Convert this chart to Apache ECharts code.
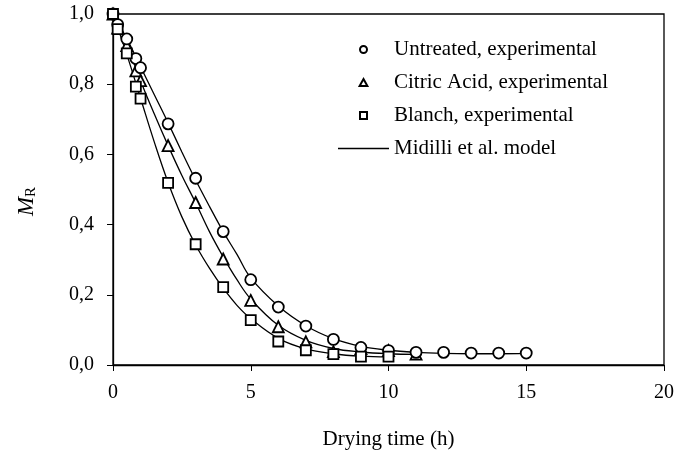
<!DOCTYPE html>
<html>
<head>
<meta charset="utf-8">
<script src="https://cdn.jsdelivr.net/npm/echarts@6/dist/echarts.min.js"></script>
<style>
  html, body { margin: 0; padding: 0; background: #fff; }
  #chart { width: 677px; height: 459px; }
</style>
</head>
<body>
<div id="chart"></div>
<script>
const timesUntreated = [0, 0.17, 0.5, 0.83, 1, 2, 3, 4, 5, 6, 7, 8, 9, 10, 11, 12, 13, 14, 15];
const untreated = [1.0, 0.97, 0.929, 0.873, 0.847, 0.687, 0.532, 0.38, 0.243, 0.165, 0.111, 0.073, 0.05, 0.041, 0.036, 0.036, 0.034, 0.034, 0.034];
const timesCitric = [0, 0.17, 0.5, 0.83, 1, 2, 3, 4, 5, 6, 7, 8, 9, 10, 11];
const citric = [1.0, 0.96, 0.91, 0.838, 0.81, 0.625, 0.463, 0.302, 0.184, 0.109, 0.066, 0.038, 0.047, 0.041, 0.031];
const timesBlanch = [0, 0.17, 0.5, 0.83, 1, 2, 3, 4, 5, 6, 7, 8, 9, 10];
const blanch = [1.0, 0.957, 0.888, 0.793, 0.759, 0.519, 0.344, 0.222, 0.128, 0.067, 0.042, 0.031, 0.024, 0.024];

// Midilli et al. model curves
const modelTimes = [0, 0.5, 1, 1.5, 2, 2.5, 3, 3.5, 4, 4.5, 5, 6, 7, 8, 9, 10, 11, 12, 13, 14, 15];
const modelUntreated = [1.0, 0.93, 0.85, 0.77, 0.69, 0.607, 0.527, 0.452, 0.38, 0.315, 0.248, 0.168, 0.112, 0.075, 0.053, 0.042, 0.036, 0.033, 0.032, 0.032, 0.033];
const modelCitric = [1.0, 0.915, 0.81, 0.715, 0.625, 0.54, 0.462, 0.38, 0.308, 0.243, 0.188, 0.113, 0.07, 0.047, 0.037, 0.032, 0.03];
const modelBlanch = [1.0, 0.885, 0.76, 0.635, 0.52, 0.422, 0.342, 0.276, 0.219, 0.17, 0.132, 0.076, 0.046, 0.032, 0.025, 0.023];

const xTicks = [0, 5, 10, 15, 20];

function pairs(xs, ys) {
  return ys.map((y, i) => [xs[i], y]);
}

const chart = echarts.init(document.getElementById("chart"));
const font = "Liberation Serif";

const markerStyle = {
  color: "#fff",
  borderColor: "#000",
  borderWidth: 1.8,
  opacity: 1,
};

const modelLine = (data) => ({
  name: "Midilli et al. model",
  type: "line",
  data: data,
  smooth: 0.4,
  symbol: "none",
  lineStyle: { color: "#000", width: 1.3 },
  itemStyle: { color: "#000" },
  z: 2,
  silent: true,
});

// legend icons, kept square inside the wide legend box
const triIcon = "path://M5,0L10,9L0,9Z";
const sqIcon = "path://M0,0H10V10H0Z";
const lineIcon = "path://M0,0H51V1.3H0Z";

let option = {
  animation: false,
  backgroundColor: "#fff",
  textStyle: { fontFamily: font },
  grid: {
    left: 113,
    right: 13,
    top: 14,
    bottom: 94,
    show: true,
    borderColor: "#000",
    borderWidth: 1.3,
  },
  legend: {
    orient: "vertical",
    left: 333,
    top: 34,
    itemWidth: 51,
    itemHeight: 7,
    itemGap: 12,
    symbolKeepAspect: true,
    textStyle: { fontFamily: font, fontSize: 21, color: "#000" },
    data: [
      { name: "Untreated, experimental", icon: "circle", itemStyle: { borderWidth: 2, opacity: 1 } },
      { name: "Citric Acid, experimental", icon: triIcon, itemStyle: { borderWidth: 2, opacity: 1 } },
      { name: "Blanch, experimental", icon: sqIcon, itemStyle: { borderWidth: 2, opacity: 1 } },
      { name: "Midilli et al. model", icon: lineIcon },
    ],
  },
  xAxis: {
    type: "value",
    min: 0,
    max: 20,
    interval: 5,
    name: "Drying time (h)",
    nameLocation: "middle",
    nameGap: 64,
    nameTextStyle: { fontFamily: font, fontSize: 21, color: "#000" },
    axisLine: { lineStyle: { color: "#000", width: 1.3 } },
    axisTick: { show: true, length: 6, lineStyle: { color: "#000" } },
    axisLabel: {
      margin: 18,
      fontFamily: font,
      fontSize: 20,
      color: "#000",
      customValues: xTicks,
    },
    splitLine: { show: false },
  },
  yAxis: {
    type: "value",
    min: 0,
    max: 1,
    interval: 0.2,
    name: "{i|M}{s|R}",
    nameLocation: "middle",
    nameGap: 74,
    nameTextStyle: {
      padding: [0, 24, 0, 0],
      rich: {
        i: { fontFamily: font, fontSize: 23, fontStyle: "italic", color: "#000" },
        s: { fontFamily: font, fontSize: 15, color: "#000", padding: [9, 0, 0, 0] },
      },
    },
    axisLine: { show: true, lineStyle: { color: "#000", width: 1.3 } },
    axisTick: { show: true, length: 6, lineStyle: { color: "#000" } },
    axisLabel: {
      margin: 19,
      fontFamily: font,
      fontSize: 20,
      color: "#000",
      formatter: (v) => v.toFixed(1).replace(".", ","),
    },
    splitLine: { show: false },
  },
  series: [
    modelLine(pairs(modelTimes, modelUntreated)),
    modelLine(pairs(modelTimes, modelCitric)),
    modelLine(pairs(modelTimes, modelBlanch)),
    {
      name: "Untreated, experimental",
      type: "scatter",
      symbol: "circle",
      symbolSize: 11,
      data: pairs(timesUntreated, untreated),
      itemStyle: markerStyle,
      z: 5,
    },
    {
      name: "Citric Acid, experimental",
      type: "scatter",
      symbol: "triangle",
      symbolSize: 11,
      data: pairs(timesCitric, citric),
      itemStyle: markerStyle,
      z: 4,
    },
    {
      name: "Blanch, experimental",
      type: "scatter",
      symbol: "rect",
      symbolSize: 10,
      data: pairs(timesBlanch, blanch),
      itemStyle: markerStyle,
      z: 6,
    },
  ],
};
chart.setOption(option);
</script>
</body>
</html>
